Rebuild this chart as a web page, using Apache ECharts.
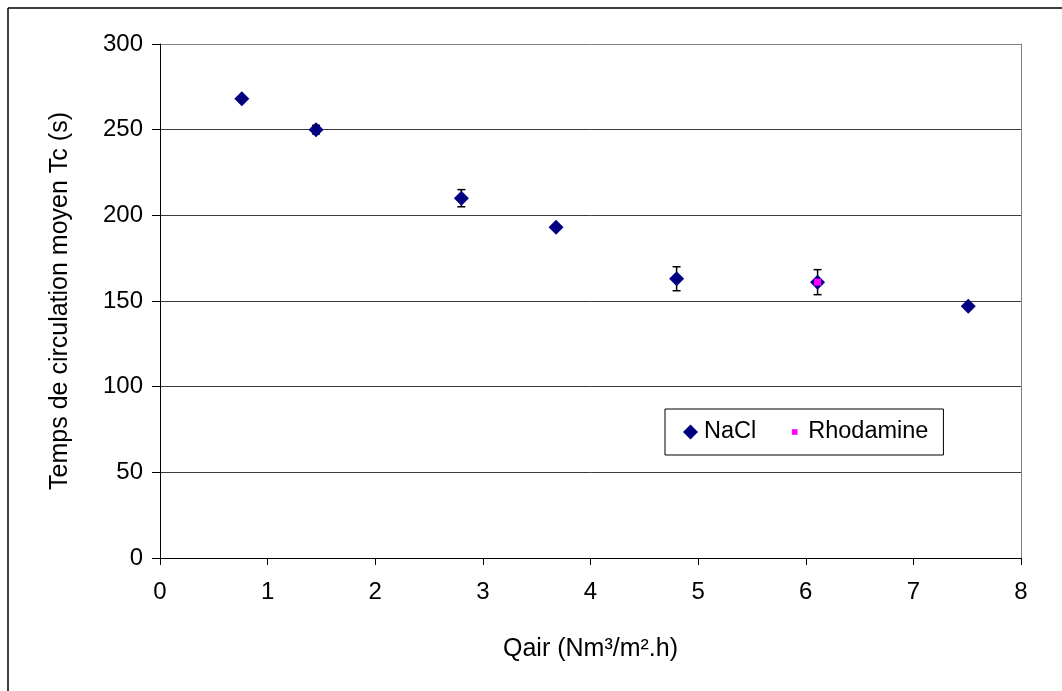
<!DOCTYPE html>
<html>
<head>
<meta charset="utf-8">
<script src="https://cdn.jsdelivr.net/npm/echarts@6/dist/echarts.min.js"></script>
<style>
  html, body { margin: 0; padding: 0; background: #fff; }
  #chart { width: 1062px; height: 691px; }
</style>
</head>
<body>
<div id="chart"></div>
<script>
// Air flow (Nm3/m2.h) and mean circulation time Tc (s)
const qairNaCl = [0.76, 1.45, 2.80, 3.68, 4.80, 6.11, 7.51];
const tcNaCl = [268, 250, 210, 193, 163, 161, 147];
const tcNaClErr = [0, 2.5, 5, 0, 7, 7.3, 0];

const qairRhodamine = [6.11];
const tcRhodamine = [161];

const xTicks = [0, 1, 2, 3, 4, 5, 6, 7, 8];
const yTicks = [0, 50, 100, 150, 200, 250, 300];

const FONT = '"Liberation Sans", Arial, sans-serif';

const nacl = qairNaCl.map((x, i) => [x, tcNaCl[i]]);
const naclErr = qairNaCl.map((x, i) => [x, tcNaCl[i], tcNaClErr[i]]);
const rhod = qairRhodamine.map((x, i) => [x, tcRhodamine[i]]);

const chart = echarts.init(document.getElementById('chart'), null, { renderer: 'canvas' });

const option = {
  backgroundColor: '#fff',
  animation: false,
  textStyle: { fontFamily: FONT, color: '#000' },
  grid: { left: 160, top: 44, right: 41, bottom: 133, containLabel: false },
  legend: {
    left: 665,
    top: 409,
    orient: 'horizontal',
    padding: [11, 15, 11, 18],
    itemGap: 31,
    itemWidth: 15,
    itemHeight: 15,
    borderColor: '#000',
    borderWidth: 1,
    backgroundColor: '#fff',
    textStyle: { fontFamily: FONT, fontSize: 23.5, color: '#000', padding: [0, 0, 0, 1] },
    data: [
      { name: 'NaCl', icon: 'diamond', itemStyle: { color: '#000080', opacity: 1 } },
      { name: 'Rhodamine', icon: 'path://M0,0L0,0M5,5L11,5L11,11L5,11Z M16,16L16,16', itemStyle: { color: '#ff00ff', opacity: 1 } }
    ]
  },
  xAxis: {
    type: 'value',
    min: xTicks[0],
    max: xTicks[xTicks.length - 1],
    interval: 1,
    name: 'Qair (Nm³/m².h)',
    nameLocation: 'middle',
    nameGap: 79,
    nameTextStyle: { fontFamily: FONT, fontSize: 25, color: '#000' },
    axisLine: { show: true, onZero: false, lineStyle: { color: '#000', width: 1 } },
    axisTick: { show: true, inside: false, length: 7, lineStyle: { color: '#000' } },
    axisLabel: { fontFamily: FONT, fontSize: 24, color: '#000', margin: 22 },
    splitLine: { show: false }
  },
  yAxis: [
    {
      type: 'value',
      min: yTicks[0],
      max: yTicks[yTicks.length - 1],
      interval: 50,
      name: 'Temps de circulation moyen Tc (s)',
      nameLocation: 'middle',
      nameGap: 87,
      nameTextStyle: { fontFamily: FONT, fontSize: 25, color: '#000' },
      axisLine: { show: true, lineStyle: { color: '#000', width: 1 } },
      axisTick: { show: true, inside: false, length: 8, lineStyle: { color: '#000' } },
      axisLabel: { fontFamily: FONT, fontSize: 24, color: '#000', margin: 17 },
      splitLine: {
        show: true,
        lineStyle: { color: ['#3a3a3a', '#3a3a3a', '#3a3a3a', '#3a3a3a', '#3a3a3a', '#3a3a3a', '#808080'], width: 1 }
      }
    },
    {
      // right-hand edge of the plot area
      type: 'value',
      position: 'right',
      min: yTicks[0],
      max: yTicks[yTicks.length - 1],
      interval: 50,
      axisLine: { show: true, lineStyle: { color: '#808080', width: 1 } },
      axisTick: { show: false },
      axisLabel: { show: false },
      splitLine: { show: false }
    }
  ],
  series: [
    {
      name: 'NaClErr',
      type: 'custom',
      data: naclErr,
      z: 3,
      silent: true,
      renderItem: function (params, api) {
        const x = api.value(0), y = api.value(1), e = api.value(2);
        if (!e) return null;
        const top = api.coord([x, y + e]);
        const bot = api.coord([x, y - e]);
        const cap = 4;
        const style = { stroke: '#000', lineWidth: 1.5 };
        return {
          type: 'group',
          children: [
            { type: 'line', shape: { x1: top[0], y1: top[1], x2: bot[0], y2: bot[1] }, style: style },
            { type: 'line', shape: { x1: top[0] - cap, y1: top[1], x2: top[0] + cap, y2: top[1] }, style: style },
            { type: 'line', shape: { x1: bot[0] - cap, y1: bot[1], x2: bot[0] + cap, y2: bot[1] }, style: style }
          ]
        };
      }
    },
    {
      name: 'NaCl',
      type: 'scatter',
      data: nacl,
      symbol: 'diamond',
      symbolSize: 15,
      z: 4,
      itemStyle: { color: '#000080', opacity: 1 }
    },
    {
      name: 'Rhodamine',
      type: 'scatter',
      data: rhod,
      symbol: 'rect',
      symbolSize: 7,
      z: 5,
      itemStyle: { color: '#ff00ff', opacity: 1 }
    }
  ],
  graphic: [
    { type: 'line', shape: { x1: 8, y1: 8, x2: 1062, y2: 8 }, style: { stroke: '#000', lineWidth: 1.5 }, silent: true },
    { type: 'line', shape: { x1: 8, y1: 8, x2: 8, y2: 691 }, style: { stroke: '#000', lineWidth: 1.5 }, silent: true }
  ]
};

chart.setOption(option);
</script>
</body>
</html>
